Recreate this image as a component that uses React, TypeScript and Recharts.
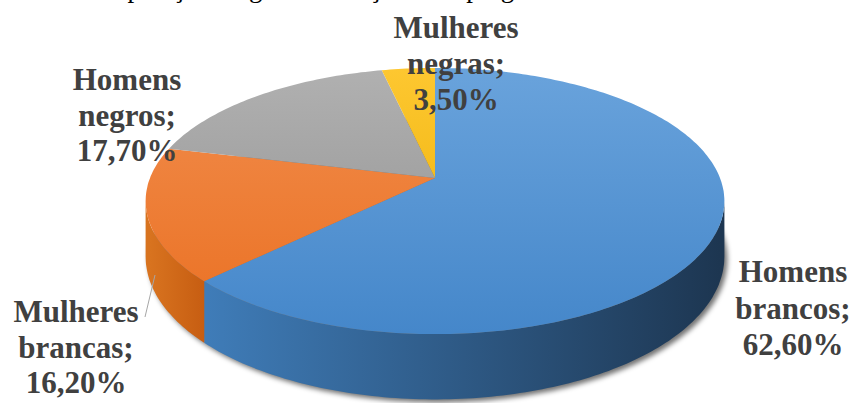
import React from 'react';
import { PieChart, Pie } from 'recharts';

// Composição por gênero e raça
const categories = ['Homens brancos', 'Mulheres brancas', 'Homens negros', 'Mulheres negras'];
const values = [62.6, 16.2, 17.7, 3.5];

const topColors = [
    ['#6ca5dd', '#4587ca'],
    ['#f28f50', '#ea7022'],
    ['#b3b3b3', '#8f8f8f'],
    ['#ffc934', '#e8ad00'],
];
const sideColors = [
    ['#3f7cb8', '#1d3651'],
    ['#d8731f', '#c45a10'],
    ['#7a7a7a', '#5c5c5c'],
    ['#c49000', '#a07500'],
];

// label anchor: centre x, first baseline y, line gap
const labelPos = [
    { x: 793, y: 282, gap: 36.5 },
    { x: 76, y: 322, gap: 35.5 },
    { x: 127, y: 90, gap: 35.5 },
    { x: 456, y: 38, gap: 36 },
];

const W = 853;
const H = 403;
const TILT = 0.453; // vertical squash of the disc
const PERSP = 0.173; // far side shrink
const DEPTH = 54;
const SERIF = '"Liberation Serif", "Times New Roman", "DejaVu Serif", serif';

const data = categories.map((name, i) => ({ name, value: values[i] }));

const fmt = (v: number) => v.toFixed(2).replace('.', ',') + '%';

const proj = (cx: number, cy: number, r: number, deg: number) => {
    const t = (deg * Math.PI) / 180;
    const s = Math.sin(t);
    const c = Math.cos(t);
    const w = 1 / (1 + PERSP * s);
    return { x: cx + r * c * w, y: cy - r * TILT * s * w, w };
};

const arc = (cx: number, cy: number, r: number, a1: number, a2: number) => {
    const n = Math.max(2, Math.ceil(Math.abs(a2 - a1)));
    const pts = [];
    for (let i = 0; i <= n; i++) {
        pts.push(proj(cx, cy, r, a1 + ((a2 - a1) * i) / n));
    }
    return pts;
};

const toPath = (pts: { x: number; y: number }[]) =>
    pts.map((p) => `${p.x.toFixed(1)},${p.y.toFixed(1)}`).join('L');

const renderSlice = (props: any) => {
    const { cx, cy, outerRadius, startAngle, endAngle, index } = props;
    const r = outerRadius;
    const lo = Math.min(startAngle, endAngle);
    const hi = Math.max(startAngle, endAngle);

    // front wall, visible between the two silhouette points
    const edge = (Math.asin(PERSP) * 180) / Math.PI;
    const walls: string[] = [];
    [0, -360, 360].forEach((shift) => {
        const a = Math.max(lo, -180 + edge + shift);
        const b = Math.min(hi, -edge + shift);
        if (b > a) {
            const top = arc(cx, cy, r, a, b);
            const bottom = top.map((p) => ({ x: p.x, y: p.y + DEPTH * p.w })).reverse();
            walls.push('M' + toPath(top.concat(bottom)) + 'Z');
        }
    });

    const face = arc(cx, cy, r, startAngle, endAngle);
    const facePath = `M${cx},${cy}L` + toPath(face) + 'Z';

    const words = categories[index].split(' ');
    const lines = [words[0], words.slice(1).join(' ') + ';', fmt(values[index])];
    const lp = labelPos[index];

    let shadow = null;
    if (index === 0) {
        const ring = arc(cx, cy, r, 0, 360).map((p) => ({ x: p.x + 3, y: p.y + DEPTH * p.w + 3 }));
        shadow = <path d={'M' + toPath(ring) + 'Z'} fill="#000" fillOpacity={0.55} filter="url(#pieShadow)" />;
    }

    return (
        <g key={`slice-${index}`}>
            <defs>
                {index === 0 && (
                    <filter id="pieShadow" x="-10%" y="-10%" width="120%" height="130%">
                        <feGaussianBlur stdDeviation="2.5" />
                    </filter>
                )}
                <linearGradient id={`top${index}`} gradientUnits="userSpaceOnUse" x1="0" y1={cy - r * TILT} x2="0" y2={cy + r * TILT * 1.2}>
                    <stop offset="0" stopColor={topColors[index][0]} />
                    <stop offset="1" stopColor={topColors[index][1]} />
                </linearGradient>
                <linearGradient id={`side${index}`} gradientUnits="userSpaceOnUse" x1={index === 1 ? cx - r : cx - r * 0.8} y1="0" x2={index === 1 ? cx - r * 0.78 : cx + r} y2="0">
                    <stop offset="0" stopColor={sideColors[index][0]} />
                    <stop offset="1" stopColor={sideColors[index][1]} />
                </linearGradient>
            </defs>
            {shadow}
            {walls.map((d, k) => (
                <path key={k} d={d} fill={`url(#side${index})`} />
            ))}
            <path d={facePath} fill={`url(#top${index})`} />
            {index === 1 && <line x1={145} y1={317} x2={155} y2={275} stroke="#a6a6a6" strokeWidth={1} />}
            <text
                x={lp.x}
                y={lp.y}
                textAnchor="middle"
                style={{ fontFamily: SERIF, fontWeight: 'bold', fontSize: 31 }}
                fill="#404040"
            >
                {lines.map((t, k) => (
                    <tspan key={k} x={lp.x} y={lp.y + k * lp.gap}>
                        {t}
                    </tspan>
                ))}
            </text>
        </g>
    );
};

export default function App() {
    return (
        <div style={{ position: 'absolute', left: 0, top: 0, width: W, height: H, background: '#fff', overflow: 'hidden' }}>
            <div
                style={{
                    position: 'absolute',
                    left: 75,
                    top: -25,
                    lineHeight: '27px',
                    fontFamily: SERIF,
                    fontSize: 27,
                    whiteSpace: 'nowrap',
                    color: '#000',
                }}
            >
                Composição de gênero e raça no emprego
            </div>
            <PieChart width={W} height={H} margin={{ top: 0, right: 0, bottom: 0, left: 0 }}>
                <Pie
                    data={data}
                    dataKey="value"
                    nameKey="name"
                    cx={435}
                    cy={178}
                    outerRadius={285}
                    startAngle={90}
                    endAngle={-270}
                    fill="none"
                    stroke="none"
                    label={renderSlice}
                    labelLine={false}
                    isAnimationActive={false}
                />
            </PieChart>
        </div>
    );
}
